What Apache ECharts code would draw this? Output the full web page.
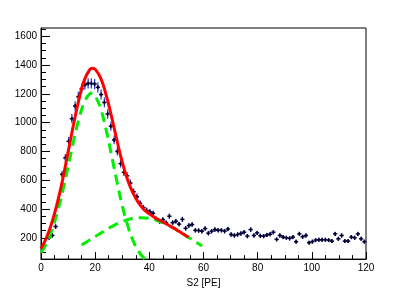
<!DOCTYPE html>
<html>
<head>
<meta charset="utf-8">
<script src="https://cdn.jsdelivr.net/npm/echarts@6/dist/echarts.min.js"></script>
<style>html,body{margin:0;padding:0;background:#fff}#c{width:407px;height:293px}</style>
</head>
<body>
<div id="c"></div>
<script>
// Histogram bin centres (S2 [PE], bin width 1.2) and counts
const binWidth = 1.2;
const binCenters = [3.0,4.2,5.4,6.6,7.8,9.0,10.2,11.4,12.6,13.8,15.0,16.2,17.4,18.6,19.8,21.0,22.2,23.4,24.6,25.8,27.0,28.2,29.4,30.6,31.8,33.0,34.2,35.4,36.6,37.8,39.0,40.2,41.4,42.6,43.8,45.0,46.2,47.4,48.6,49.8,51.0,52.2,53.4,54.6,55.8,57.0,58.2,59.4,60.6,61.8,63.0,64.2,65.4,66.6,67.8,69.0,70.2,71.4,72.6,73.8,75.0,76.2,77.4,78.6,79.8,81.0,82.2,83.4,84.6,85.8,87.0,88.2,89.4,90.6,91.8,93.0,94.2,95.4,96.6,97.8,99.0,100.2,101.4,102.6,103.8,105.0,106.2,107.4,108.6,109.8,111.0,112.2,113.4,114.6,115.8,117.0,118.2,119.4];
const counts = [200,216,278,440,640,755,870,1027,1115,1180,1235,1263,1272,1272,1268,1245,1195,1140,1060,975,880,800,715,655,630,580,520,485,440,410,390,380,370,330,314,326,305,350,305,315,295,328,266,285,292,252,250,246,264,232,246,257,252,252,246,261,223,216,223,230,239,212,257,216,234,214,212,220,225,239,189,216,205,200,196,205,173,227,207,216,166,173,184,186,186,186,184,177,227,193,216,177,177,205,200,227,193,173];

// Fit curves: [x, y]
const totalFitX = [0,2,4,6,8,10,12,14,16,18,19,20,22,24,26,28,30,32,34,36,38,40,42,44,46,48,50,52,54,54.5];
const totalFitY = [125,200,305,440,605,795,985,1160,1295,1368,1378,1370,1310,1195,1045,880,725,602,510,444,397,366,341,320,299,278,256,232,209,204];
const peakFitX = [0,2,4,6,8,10,12,14,16,18,19,20,22,24,26,28,30,32,34,36,38,40];
const peakFitY = [97,160,252,375,525,695,870,1025,1140,1200,1205,1186,1098,954,777,594,425,286,180,107,59,31];
const bkgFitX = [15,18,20,22,25,28,30,32,34,37,40,43,46,49,52,55,58,59.5];
const bkgFitY = [150,185,209,232,267,296,313,326,335,340,335,320,296,267,232,197,161,144];

const yMajorTicks = [200,400,600,800,1000,1200,1400,1600];
const yMinorTicks = [100,150,250,300,350,450,500,550,650,700,750,850,900,950,1050,1100,1150,1250,1300,1350,1450,1500,1550,1650];
const yMin = 52, yMax = 1657;
const xMin = 0, xMax = 120;

const zip = (xs, ys) => xs.map((x, i) => [x, ys[i]]);
const histData = binCenters.map((x, i) => [x, counts[i], Math.sqrt(counts[i])]);

const FONT = 'Liberation Sans';
const chart = echarts.init(document.getElementById('c'), null, {renderer: 'canvas'});
chart.setOption({
  animation: false,
  grid: {left: 41, right: 41, top: 28, bottom: 30, show: true, borderColor: '#000', borderWidth: 1, backgroundColor: 'transparent'},
  xAxis: {
    type: 'value', min: xMin, max: xMax, interval: 20,
    axisLine: {onZero: false, lineStyle: {color: '#000', width: 1}},
    axisTick: {inside: true, length: 7, lineStyle: {color: '#000'}},
    minorTick: {show: true, splitNumber: 4, length: 4, lineStyle: {color: '#000'}},
    splitLine: {show: false},
    axisLabel: {color: '#000', fontFamily: FONT, fontSize: 10, margin: 4},
    name: 'S2 [PE]', nameLocation: 'middle', nameGap: 18,
    nameTextStyle: {color: '#000', fontFamily: FONT, fontSize: 10}
  },
  yAxis: [{
    type: 'value', min: yMin, max: yMax, position: 'left',
    axisLine: {show: true, onZero: false, lineStyle: {color: '#000', width: 1}},
    axisTick: {inside: true, length: 9, customValues: yMajorTicks, lineStyle: {color: '#000'}},
    axisLabel: {customValues: yMajorTicks, formatter: v => String(v), color: '#000', fontFamily: FONT, fontSize: 10, margin: 4},
    splitLine: {show: false}
  }, {
    type: 'value', min: yMin, max: yMax, position: 'left',
    axisLine: {show: false},
    axisTick: {show: true, inside: true, length: 5, customValues: yMinorTicks, lineStyle: {color: '#000'}},
    axisLabel: {show: false},
    splitLine: {show: false}
  }],
  series: [{
    type: 'custom',
    data: histData,
    z: 2,
    renderItem: function (params, api) {
      const x = api.value(0), y = api.value(1), e = api.value(2);
      const top = api.coord([x, Math.min(y + e, yMax)]);
      const bot = api.coord([x, Math.max(y - e, yMin)]);
      const l = api.coord([x - binWidth / 2, y]);
      const r = api.coord([x + binWidth / 2, y]);
      const c = api.coord([x, y]);
      return {
        type: 'group',
        children: [
          {type: 'line', shape: {x1: top[0], y1: top[1], x2: bot[0], y2: bot[1]}, style: {stroke: '#2233cc', lineWidth: 1.2}},
          {type: 'line', shape: {x1: l[0] - 0.5, y1: l[1], x2: r[0] + 0.5, y2: r[1]}, style: {stroke: '#000033', lineWidth: 1.5}},
          {type: 'line', shape: {x1: c[0], y1: c[1] - 2, x2: c[0], y2: c[1] + 2}, style: {stroke: '#000033', lineWidth: 1.5}}
        ]
      };
    }
  }, {
    type: 'line', data: zip(peakFitX, peakFitY), smooth: true, showSymbol: false, z: 3,
    lineStyle: {color: '#00ee00', width: 3, type: [10, 6]}
  }, {
    type: 'line', data: zip(bkgFitX, bkgFitY), smooth: true, showSymbol: false, z: 3,
    lineStyle: {color: '#00ee00', width: 3, type: [10, 6]}
  }, {
    type: 'line', data: zip(totalFitX, totalFitY), smooth: true, showSymbol: false, z: 4,
    lineStyle: {color: '#ff0000', width: 3}
  }]
});
</script>
</body>
</html>
